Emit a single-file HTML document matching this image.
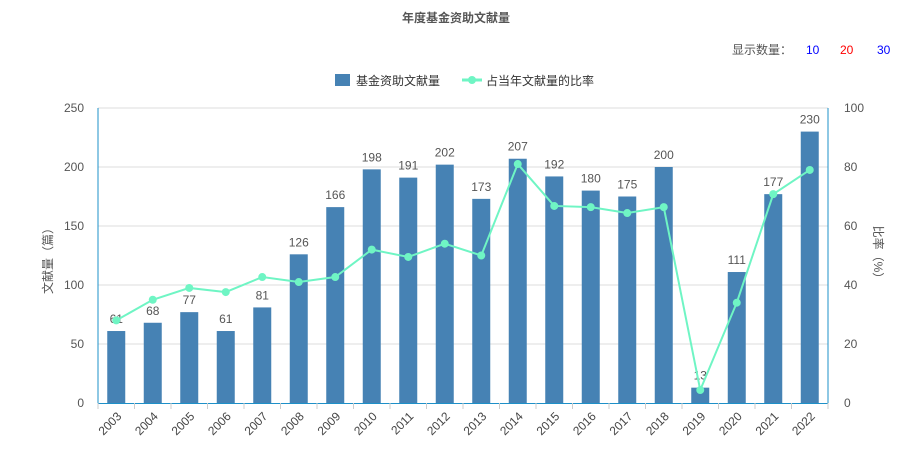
<!DOCTYPE html>
<html><head><meta charset="utf-8">
<style>
body{margin:0;background:#fff;width:913px;height:453px;overflow:hidden;font-family:"Liberation Sans","Noto Sans CJK SC",sans-serif;}
svg{display:block}
</style></head>
<body>
<svg id="chart" width="913" height="453">
<text x="456" y="22" text-anchor="middle" font-size="12" font-weight="bold" fill="#555">年度基金资助文献量</text>
<text x="732" y="54" font-size="12" fill="#555">显示数量：</text>
<text x="806" y="54" font-size="12" fill="#00f">10</text>
<text x="840" y="54" font-size="12" fill="#f00">20</text>
<text x="877" y="54" font-size="12" fill="#00f">30</text>
<g>
<rect x="335" y="74" width="15" height="12" fill="#4682b4"/>
<text x="356" y="85" font-size="12" fill="#333">基金资助文献量</text>
<line x1="462" y1="80" x2="482" y2="80" stroke="#6ff5c4" stroke-width="3"/>
<circle cx="472" cy="80" r="4" fill="#6ff5c4"/>
<text x="486" y="85" font-size="12" fill="#333">占当年文献量的比率</text>
</g>
<text transform="translate(52,258) rotate(-90)" text-anchor="middle" font-size="12" fill="#555">文献量（篇）</text>
<text transform="translate(874,255) rotate(90)" text-anchor="middle" font-size="12" fill="#555">比率（%）</text>
</svg>
<script>
const years=["2003","2004","2005","2006","2007","2008","2009","2010","2011","2012","2013","2014","2015","2016","2017","2018","2019","2020","2021","2022"];
const counts=[61,68,77,61,81,126,166,198,191,202,173,207,192,180,175,200,13,111,177,230];
const ratios=[28,35,39,37.6,42.7,41,42.7,52,49.5,54,50,81,66.8,66.4,64.4,66.4,4.4,34,70.8,79];
const leftTicks=[0,50,100,150,200,250];
const rightTicks=[0,20,40,60,80,100];
const NS="http://www.w3.org/2000/svg";
const svg=document.getElementById('chart');
const X0=98,X1=828,Y0=403,Y1=108;
const band=(X1-X0)/years.length;
const yL=v=>Y0-(v/250)*(Y0-Y1);
const yR=v=>Y0-(v/100)*(Y0-Y1);
const xC=i=>X0+band*(i+0.5);
function mk(t,a){const e=document.createElementNS(NS,t);for(const k in a)e.setAttribute(k,a[k]);svg.appendChild(e);return e;}
leftTicks.forEach((v,i)=>{
  if(v>0){const g=mk('line',{x1:X0,x2:X1,y1:yL(v),y2:yL(v),stroke:'#ddd'});
  
  }
  const t=mk('text',{x:X0-14,y:yL(v)+4,'text-anchor':'end','font-size':12,fill:'#555'});t.textContent=v;
  
  
});
rightTicks.forEach(v=>{
  const t=mk('text',{x:X1+16,y:yR(v)+4,'font-size':12,fill:'#555'});t.textContent=v;
  
  
});
let a=mk('line',{x1:X0,x2:X0,y1:Y1,y2:Y0,stroke:'#1e90c8'});


a=mk('line',{x1:X1,x2:X1,y1:Y1,y2:Y0,stroke:'#1e90c8'});


a=mk('line',{x1:X0,x2:X1,y1:Y0+0.5,y2:Y0+0.5,stroke:'#1e90c8'});


for(let i=0;i<=years.length;i++){
  const tk=mk('line',{x1:X0+band*i,x2:X0+band*i,y1:Y0,y2:Y0+6,stroke:'#ccc'});
  
  
}
years.forEach((y,i)=>{
  const cx=xC(i);
  const b=mk('rect',{x:cx-9,y:yL(counts[i]),width:18,height:Y0-yL(counts[i]),fill:'#4682b4'});
  
  
  const l=mk('text',{x:cx,y:yL(counts[i])-8,'text-anchor':'middle','font-size':12,fill:'#555'});l.textContent=counts[i];
  
  
  const t=mk('text',{x:0,y:0,'text-anchor':'end','font-size':12,fill:'#444',transform:`translate(${cx+6},${Y0+14}) rotate(-45)`});t.textContent=y;
  
  
});
const pl=mk('polyline',{points:ratios.map((v,i)=>xC(i)+','+yR(v)).join(' '),fill:'none',stroke:'#6ff5c4','stroke-width':2});


ratios.forEach((v,i)=>{
  const c=mk('circle',{cx:xC(i),cy:yR(v),r:4,fill:'#6ff5c4'});
  
  
});
</script>
</body></html>
